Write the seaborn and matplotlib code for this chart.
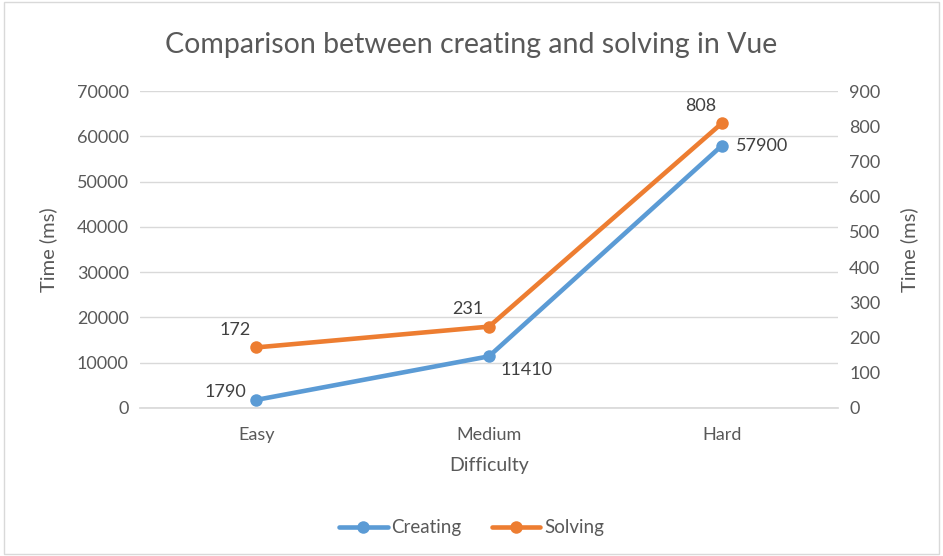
import pandas as pd
import seaborn as sns
import matplotlib
matplotlib.use("Agg")
import matplotlib.pyplot as plt
from matplotlib.lines import Line2D
from matplotlib.patches import Rectangle

difficulty = ["Easy", "Medium", "Hard"]
creating_ms = [1790, 11410, 57900]
solving_ms = [172, 231, 808]

BLUE = "#5B9BD5"
ORANGE = "#ED7D31"
TXT = "#595959"
GRID = "#D9D9D9"

sns.set_theme(style="white")
plt.rcParams["font.family"] = ["Lato", "DejaVu Sans"]

df = pd.DataFrame({"Difficulty": difficulty, "Creating": creating_ms, "Solving": solving_ms})

fig = plt.figure(figsize=(9.43, 5.56), dpi=100)
ax = fig.add_axes([140 / 943, 1 - 408 / 556, 698 / 943, 317 / 556])
ax2 = ax.twinx()

sns.lineplot(data=df, x="Difficulty", y="Creating", ax=ax, color=BLUE, lw=3.3,
             marker="o", markersize=9, markeredgewidth=0, sort=False)
sns.lineplot(data=df, x="Difficulty", y="Solving", ax=ax2, color=ORANGE, lw=3.3,
             marker="o", markersize=9, markeredgewidth=0, sort=False)

ax.set_xlim(-0.5, 2.5)
ax.set_ylim(0, 70000)
ax.set_yticks(range(0, 70001, 10000))
ax2.set_ylim(0, 900)
ax2.set_yticks(range(0, 901, 100))

ax.grid(axis="y", color=GRID, lw=1)
ax.set_axisbelow(True)
for a in (ax, ax2):
    for s in a.spines.values():
        s.set_visible(False)
    a.tick_params(length=0, labelsize=13, colors=TXT, pad=8)
ax.spines["bottom"].set_visible(True)
ax.spines["bottom"].set_color(GRID)
ax.tick_params(axis="x", pad=14)

ax.set_xlabel("Difficulty", fontsize=14, color=TXT, labelpad=10)
ax.set_ylabel("Time (ms)", fontsize=14.5, color=TXT, labelpad=14)
ax2.set_ylabel("Time (ms)", fontsize=14.5, color=TXT, labelpad=14)

# data labels
lab = dict(fontsize=13, color="#404040")
ax.annotate(f"{creating_ms[0]}", (0, creating_ms[0]), xytext=(-7, 0),
            textcoords="offset points", ha="right", va="bottom", **lab)
ax.annotate(f"{creating_ms[1]}", (1, creating_ms[1]), xytext=(8, -4),
            textcoords="offset points", ha="left", va="top", **lab)
ax.annotate(f"{creating_ms[2]}", (2, creating_ms[2]), xytext=(10, 0),
            textcoords="offset points", ha="left", va="center", **lab)
for i, v in enumerate(solving_ms):
    ax2.annotate(f"{v}", (i, v), xytext=(-4, 7), textcoords="offset points",
                 ha="right", va="bottom", **lab)

fig.suptitle("Comparison between creating and solving in Vue", y=1 - 45 / 556,
             va="center", fontsize=20.5, color=TXT)

handles = [Line2D([], [], color=BLUE, lw=3.3, marker="o", markersize=9, markeredgewidth=0),
           Line2D([], [], color=ORANGE, lw=3.3, marker="o", markersize=9, markeredgewidth=0)]
leg = fig.legend(handles, ["Creating", "Solving"], loc="center", ncol=2,
                 bbox_to_anchor=(0.5, 1 - 528 / 556), frameon=False,
                 fontsize=13.5, handlelength=2.6, columnspacing=1.6, handletextpad=0.2)
for t in leg.get_texts():
    t.set_color(TXT)

fig.patches.append(Rectangle((0.004, 0.004), 0.992, 0.992, transform=fig.transFigure,
                             fill=False, edgecolor=GRID, lw=1))

fig.savefig("out.png", dpi=100)
